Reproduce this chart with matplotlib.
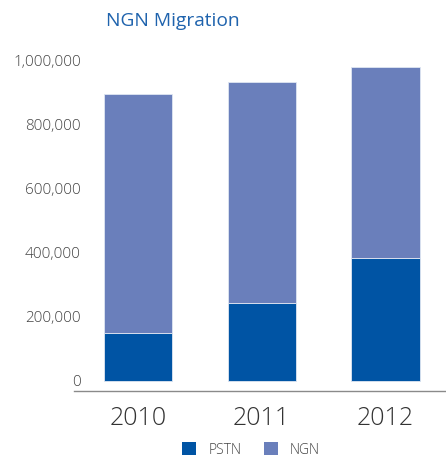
import matplotlib
matplotlib.use("Agg")
import matplotlib.pyplot as plt
from matplotlib.patches import Patch
from matplotlib.ticker import FuncFormatter

years = ["2010", "2011", "2012"]
pstn = [151000, 244000, 384000]
ngn_total = [896000, 933000, 981000]
ngn = [t - p for t, p in zip(ngn_total, pstn)]
yticks = [0, 200000, 400000, 600000, 800000, 1000000]

C_PSTN = "#0054A4"
C_NGN = "#6A7FBB"
TEXT = "#444444"

plt.rcParams["font.family"] = ["Open Sans", "DejaVu Sans"]

fig = plt.figure(figsize=(4.46, 4.59), dpi=100)
ax = fig.add_axes([74 / 446, 1 - 391 / 459, 372 / 446, 336 / 459])

x = list(range(len(years)))
ax.bar(x, pstn, width=0.55, color=C_PSTN, edgecolor="#dfe6f2", linewidth=0.6, zorder=2)
ax.bar(x, ngn, bottom=pstn, width=0.55, color=C_NGN, edgecolor="#dfe6f2", linewidth=0.6, zorder=2)

ax.set_xlim(-0.517, 2.489)
ax.set_ylim(-31250, 1018750)

for s in ["top", "right", "left"]:
    ax.spines[s].set_visible(False)
ax.spines["bottom"].set_color("#8a8a8a")
ax.spines["bottom"].set_linewidth(1.0)

ax.set_yticks(yticks)
ax.yaxis.set_major_formatter(FuncFormatter(lambda v, p: f"{int(v):,}"))
ax.tick_params(axis="y", length=0, pad=-5, labelsize=11, labelcolor=TEXT)
ax.set_xticks(x)
ax.set_xticklabels(years)
ax.tick_params(axis="x", length=0, pad=11, labelsize=18, labelcolor="#333333")
for lab in ax.get_yticklabels() + ax.get_xticklabels():
    lab.set_fontweight("light")

fig.text(106 / 446, 1 - 26 / 459, "NGN Migration", color="#1F63AD",
         fontsize=13.8, va="baseline", ha="left")

handles = [Patch(facecolor=C_PSTN, label="PSTN"), Patch(facecolor=C_NGN, label="NGN")]
leg = fig.legend(handles=handles, loc="center", bbox_to_anchor=(251 / 446, 1 - 450 / 459),
                 ncol=2, frameon=False, fontsize=10, handlelength=1.0, handleheight=1.05,
                 handletextpad=0.9, columnspacing=1.6, borderpad=0)
for t in leg.get_texts():
    t.set_color(TEXT)
    t.set_fontweight("light")

fig.savefig("out.png", dpi=100)
